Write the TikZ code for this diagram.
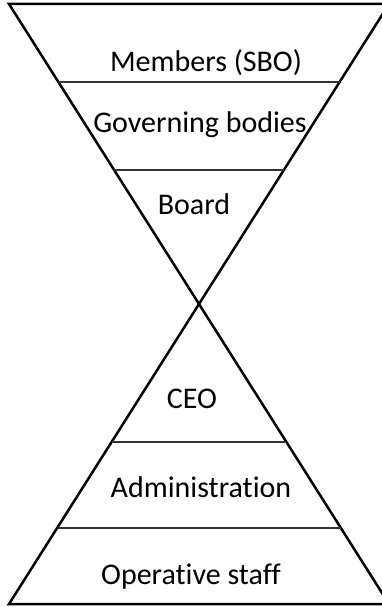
\documentclass[tikz,border=0pt]{standalone}
\usepackage{fontspec}
\setmainfont{Carlito}[Ligatures=NoCommon]
\usetikzlibrary{calc}

\tikzset{
  rim/.style={line width=2.5pt, black, line join=miter},
  tier/.style={line width=1.1pt, black!80},
  lbl/.style={anchor=base, inner sep=0pt, font=\fontsize{30}{36}\selectfont}
}

\begin{document}
\begin{tikzpicture}[x=1pt, y=-1pt]
      \useasboundingbox (0, 0) rectangle (382, 607);
      \clip (0, 0) rectangle (382, 607);
      % corners of the hourglass
      \coordinate (tl) at (9, 4);
      \coordinate (tr) at (389, 4);
      \coordinate (bl) at (9, 604);
      \coordinate (br) at (389, 604);
      \draw[rim] (bl) -- (tr) -- (tl) -- (br) -- cycle;
      % separators between the levels
      \foreach \f in {0.13, 0.2767, 0.73, 0.8733}
        \draw[tier] ($(tl)!\f!(br)$) -- ($(tr)!\f!(bl)$);
      \node[lbl] (members) at (206, 72) {Members (SBO)};
      \node[lbl] (gov) at (200, 132) {Governing bodies};
      \node[lbl] (board) at (194, 214) {Board};
      \node[lbl] (ceo) at (192, 408) {CEO};
      \node[lbl] (admin) at (201, 497) {Administration};
      \node[lbl] (staff) at (191, 584) {Operative staff};
    \end{tikzpicture}
\end{document}
